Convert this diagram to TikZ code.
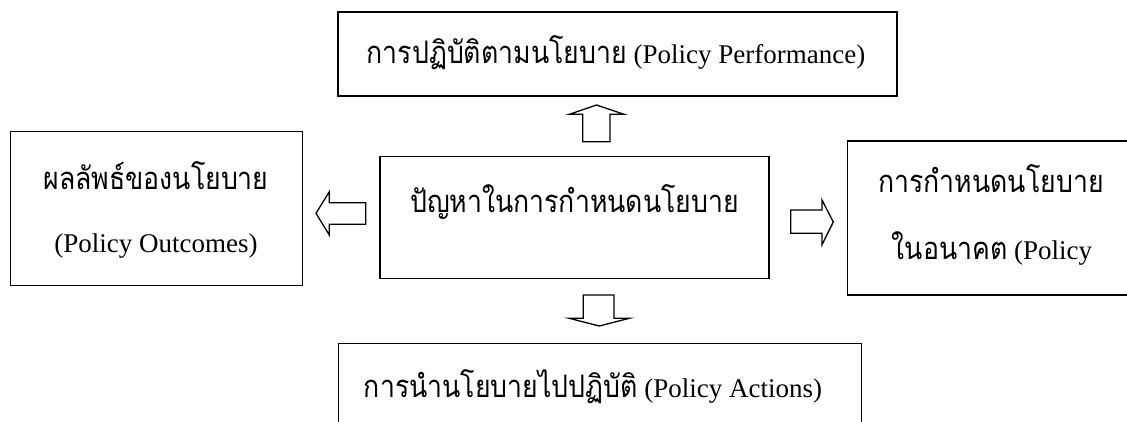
\documentclass[tikz,border=0pt]{standalone}
\usepackage{fontspec}
\setmainfont{Liberation Serif}
\newfontfamily\thai[Script=Thai,FakeStretch=0.86]{Loma}
\tikzset{
  box/.style={draw=black, line width=1.5pt},
  blockarrow/.style={draw=black, line width=1.3pt, fill=white, line join=miter},
  lbl/.style={anchor=base, inner sep=0pt, font=\fontsize{27}{30}\selectfont},
}
\newcommand{\thtxt}[1]{{\thai\fontsize{31}{34}\selectfont #1}}
\begin{document}
\begin{tikzpicture}[x=1pt,y=1pt]
\clip (0,0) rectangle (1127,-421);
\fill[white] (0,0) rectangle (1127,-421);
% boxes
\draw[box] (338,-12) rectangle (897,-96);
\draw[box] (10.7,-131.7) rectangle (302.7,-285.7);
\draw[box] (380,-156.7) rectangle (769,-278.3);
\draw[box] (847.3,-141) rectangle (1140,-295);
\draw[box] (338.3,-343.3) rectangle (861.7,-440);
% labels
\node[lbl] (ttop) at (616,-63) {\thtxt{การปฏิบัติตามนโยบาย} (Policy Performance)};
\node[lbl] (tl1) at (156,-189) {\thtxt{ผลลัพธ์ของนโยบาย}};
\node[lbl] (tl2) at (156,-252) {(Policy Outcomes)};
\node[lbl] (tc) at (574.5,-212) {\thtxt{ปัญหาในการกำหนดนโยบาย}};
\node[lbl] (tr1) at (991,-192) {\thtxt{การกำหนดนโยบาย}};
\node[lbl] (tr2) at (992,-259) {\thtxt{ในอนาคต} (Policy};
\node[lbl] (tb) at (593,-397) {\thtxt{การนำนโยบายไปปฏิบัติ} (Policy Actions)};
% block arrows
\draw[blockarrow] (582.7,-141.7) -- (582.7,-114.3) -- (569.3,-114.3) -- (596.5,-105) -- (624,-114.3) -- (610,-114.3) -- (610,-141.7) -- cycle;
\draw[blockarrow] (583.3,-295) -- (583.3,-318.3) -- (569.3,-318.3) -- (599.3,-326) -- (629.3,-318.3) -- (614,-318.3) -- (614,-295) -- cycle;
\draw[blockarrow] (365.7,-202.7) -- (329.3,-202.7) -- (329.3,-191.7) -- (316,-213.3) -- (329.3,-235) -- (329.3,-224.3) -- (365.7,-224.3) -- cycle;
\draw[blockarrow] (790.7,-210) -- (822,-210) -- (822,-200) -- (833.3,-222) -- (822,-244.7) -- (822,-233.3) -- (790.7,-233.3) -- cycle;
\end{tikzpicture}
\end{document}
